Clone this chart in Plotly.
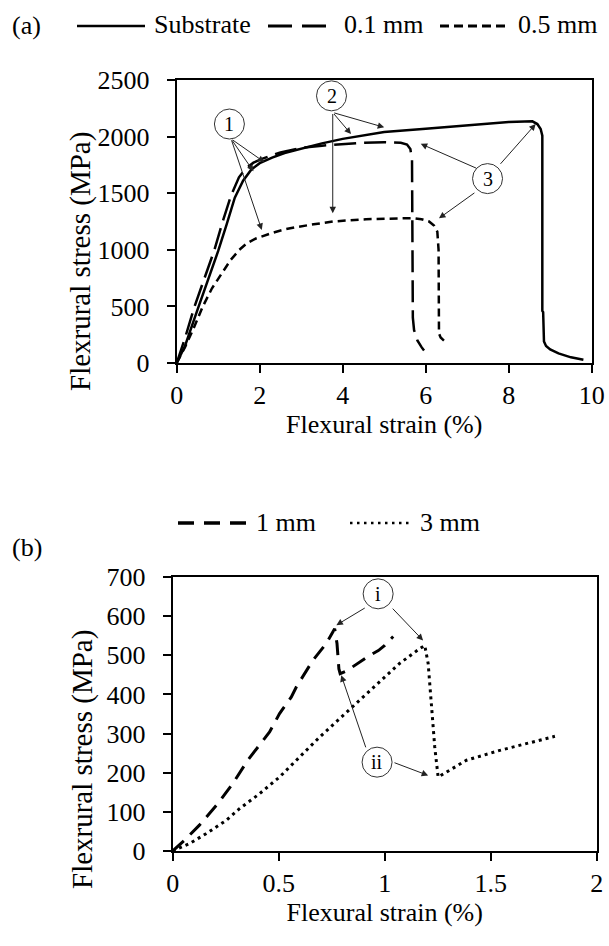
import plotly.graph_objects as go

# ---------------- data (a) ----------------
sub_x = [0, 0.2, 0.5, 0.8, 1.0, 1.2, 1.4, 1.6, 1.8, 2.0, 2.3, 2.6, 3.0, 3.5, 4.0, 5.0, 6.0, 7.0,
         8.0, 8.57, 8.69, 8.77, 8.81, 8.81, 8.83, 8.85, 8.9, 9.0, 9.2, 9.5, 9.8]
sub_y = [0, 150, 470, 780, 990, 1220, 1460, 1610, 1710, 1765, 1815, 1855, 1895, 1940, 1980, 2040, 2070, 2100,
         2130, 2135, 2111, 2067, 2009, 460, 450, 190, 150, 120, 85, 50, 28]

d01_x = [0, 0.2, 0.43, 0.7, 0.91, 1.1, 1.31, 1.5, 1.67, 1.85, 2.07, 2.5, 3.0, 3.5, 4.0, 4.5, 5.0, 5.4,
         5.55, 5.63, 5.67, 5.68, 5.69, 5.72, 5.8, 5.9, 5.96]
d01_y = [0, 220, 500, 780, 1000, 1240, 1480, 1640, 1720, 1770, 1805, 1860, 1900, 1920, 1935, 1945, 1950, 1945,
         1930, 1890, 1800, 1200, 400, 290, 200, 140, 110]

d05_x = [0, 0.2, 0.4, 0.63, 0.85, 1.11, 1.3, 1.51, 1.7, 1.91, 2.1, 2.31, 2.6, 2.87, 3.3, 3.76, 4.56, 5.36,
         5.68, 5.9, 6.08, 6.2, 6.28, 6.31, 6.32, 6.36, 6.45, 6.52]
d05_y = [0, 140, 300, 500, 660, 810, 910, 1000, 1060, 1100, 1125, 1150, 1180, 1200, 1225, 1250, 1270, 1280,
         1280, 1270, 1250, 1215, 1160, 1000, 260, 225, 195, 170]

# ---------------- data (b) ----------------
d1_x = [0, 0.055, 0.126, 0.213, 0.283, 0.354, 0.457, 0.504, 0.559, 0.583, 0.661, 0.724, 0.764,
        0.775, 0.784, 0.79, 0.82, 0.87, 0.93, 0.97, 1.0, 1.04]
d1_y = [0, 27, 66, 121, 172, 232, 304, 351, 393, 419, 487, 530, 568,
        530, 465, 453, 460, 478, 500, 512, 525, 548]

d3_x = [0, 0.079, 0.157, 0.252, 0.315, 0.409, 0.504, 0.598, 0.693, 0.787, 0.882, 0.976, 1.07, 1.165,
        1.189, 1.205, 1.22, 1.236, 1.252, 1.386, 1.543, 1.70, 1.803]
d3_y = [0, 19, 44, 78, 108, 146, 189, 240, 291, 338, 385, 432, 479, 517,
        525, 479, 385, 266, 189, 232, 257, 278, 293]

names_a = ["Substrate", "0.1 mm", "0.5 mm"]
names_b = ["1 mm", "3 mm"]
xticks_a = [0, 2, 4, 6, 8, 10]
yticks_a = [0, 500, 1000, 1500, 2000, 2500]
xticks_b = [0, 0.5, 1, 1.5, 2]
yticks_b = [0, 100, 200, 300, 400, 500, 600, 700]

FONT = "Liberation Serif, Times New Roman, serif"
W, H = 609, 946

def px(x):
    return x / W

def py(y):
    return 1 - y / H

fig = go.Figure()
fig.add_trace(go.Scatter(x=sub_x, y=sub_y, mode="lines", name=names_a[0],
                         line=dict(color="black", width=2.5), xaxis="x", yaxis="y"))
fig.add_trace(go.Scatter(x=d01_x, y=d01_y, mode="lines", name=names_a[1],
                         line=dict(color="black", width=2.5, dash="22px,8px"), xaxis="x", yaxis="y"))
fig.add_trace(go.Scatter(x=d05_x, y=d05_y, mode="lines", name=names_a[2],
                         line=dict(color="black", width=2.5, dash="8px,5px"), xaxis="x", yaxis="y"))
fig.add_trace(go.Scatter(x=d1_x, y=d1_y, mode="lines", name=names_b[0],
                         line=dict(color="black", width=3, dash="15px,9px"), xaxis="x2", yaxis="y2"))
fig.add_trace(go.Scatter(x=d3_x, y=d3_y, mode="lines", name=names_b[1],
                         line=dict(color="black", width=3, dash="3px,4px"), xaxis="x2", yaxis="y2"))

axis_common = dict(showline=True, linecolor="black", linewidth=2, mirror=True, ticks="outside",
                   ticklen=8, tickwidth=2, tickcolor="black", showgrid=False, zeroline=False,
                   automargin=False,
                   tickfont=dict(family=FONT, size=26, color="black"))

fig.update_layout(
    template="none",
    width=W, height=H, margin=dict(l=0, r=0, t=0, b=0, pad=0, autoexpand=False),
    paper_bgcolor="white", plot_bgcolor="white", showlegend=False,
    font=dict(family=FONT, color="black"),
    xaxis=dict(domain=[px(176.7), px(591.7)], range=[0, 10], tickvals=xticks_a, anchor="y",
               ticklabelstandoff=0,
               title=dict(text="Flexural strain (%)", font=dict(family=FONT, size=26), standoff=6),
               **axis_common),
    yaxis=dict(domain=[py(363), py(80)], range=[0, 2500], tickvals=yticks_a, anchor="x",
               ticklabelstandoff=12, **axis_common),
    xaxis2=dict(domain=[px(172.7), px(596.7)], range=[0, 2], tickvals=xticks_b, anchor="y2",
                ticklabelstandoff=0,
                title=dict(text="Flexural strain (%)", font=dict(family=FONT, size=26), standoff=6),
                **axis_common),
    yaxis2=dict(domain=[py(851), py(577)], range=[0, 700], tickvals=yticks_b, anchor="x2",
                ticklabelstandoff=12, **axis_common),
)

annotations = []
shapes = []

# y-axis titles
annotations.append(dict(text="Flexrural stress (MPa)", xref="paper", yref="paper", x=px(80), y=py(262),
                        textangle=-90, showarrow=False, font=dict(family=FONT, size=29),
                        xanchor="center", yanchor="middle"))
annotations.append(dict(text="Flexrural stress (MPa)", xref="paper", yref="paper", x=px(82), y=py(760),
                        textangle=-90, showarrow=False, font=dict(family=FONT, size=29),
                        xanchor="center", yanchor="middle"))

# panel labels
annotations.append(dict(text="(a)", xref="paper", yref="paper", x=px(10), y=py(26), showarrow=False,
                        xanchor="left", yanchor="middle", font=dict(family=FONT, size=26)))
annotations.append(dict(text="(b)", xref="paper", yref="paper", x=px(10), y=py(547), showarrow=False,
                        xanchor="left", yanchor="middle", font=dict(family=FONT, size=26)))

# manual legends
leg = [
    (77, 145, 26, None, 2.5, names_a[0], 152),
    (268, 335, 26, "24px,10px", 3, names_a[1], 342),
    (440, 510, 26, "9px,5px", 3, names_a[2], 516),
    (178, 247, 523, "16px,10px", 3.5, names_b[0], 254),
    (350, 413, 523, "2.5px,4.5px", 2.5, names_b[1], 418),
]
for x0, x1, yy, dash, w, name, tx in leg:
    ln = dict(color="black", width=w)
    if dash:
        ln["dash"] = dash
    shapes.append(dict(type="line", xref="paper", yref="paper", x0=px(x0), x1=px(x1),
                       y0=py(yy), y1=py(yy), line=ln))
    annotations.append(dict(text=name, xref="paper", yref="paper", x=px(tx), y=py(yy - 1),
                            showarrow=False, xanchor="left", yanchor="middle",
                            font=dict(family=FONT, size=26)))

# circled markers and arrows
circles = [
    ("x", "y", 1.27, 2111, "1"),
    ("x", "y", 3.73, 2360, "2"),
    ("x", "y", 7.49, 1629, "3"),
    ("x2", "y2", 0.969, 657, "i"),
    ("x2", "y2", 0.964, 227, "ii"),
]
for xr, yr, cx, cy, lab in circles:
    shapes.append(dict(type="circle", xref=xr, yref=yr, xsizemode="pixel", ysizemode="pixel",
                       xanchor=cx, yanchor=cy, x0=-15, x1=15, y0=-15, y1=15,
                       line=dict(color="#333", width=1), fillcolor="white", layer="above"))
    annotations.append(dict(text=lab, xref=xr, yref=yr, x=cx, y=cy, showarrow=False,
                            font=dict(family=FONT, size=20), xanchor="center", yanchor="middle"))

arrows = [
    ("x", "y", 1.31, 1980, 2.11, 1775),
    ("x", "y", 1.31, 1980, 1.85, 1693),
    ("x", "y", 1.31, 1980, 2.05, 1175),
    ("x", "y", 3.76, 2213, 5.0, 2082),
    ("x", "y", 3.76, 2213, 4.2, 2023),
    ("x", "y", 3.76, 2213, 3.76, 1322),
    ("x", "y", 7.25, 1716, 5.88, 1936),
    ("x", "y", 7.77, 1746, 8.65, 2111),
    ("x", "y", 7.21, 1512, 6.32, 1278),
    ("x2", "y2", 0.913, 623, 0.772, 577),
    ("x2", "y2", 1.031, 623, 1.181, 538),
    ("x2", "y2", 0.913, 261, 0.795, 449),
    ("x2", "y2", 1.039, 227, 1.205, 193),
]
for xr, yr, tx, ty, hx, hy in arrows:
    annotations.append(dict(text="", xref=xr, yref=yr, x=hx, y=hy, axref=xr, ayref=yr, ax=tx, ay=ty,
                            showarrow=True, arrowhead=2, arrowsize=1.3, arrowwidth=1,
                            arrowcolor="#222", standoff=0, startstandoff=0))

fig.update_layout(annotations=annotations, shapes=shapes)
fig.write_html("out.html", config={"displayModeBar": False},
               post_script="document.body.style.margin='0';")
